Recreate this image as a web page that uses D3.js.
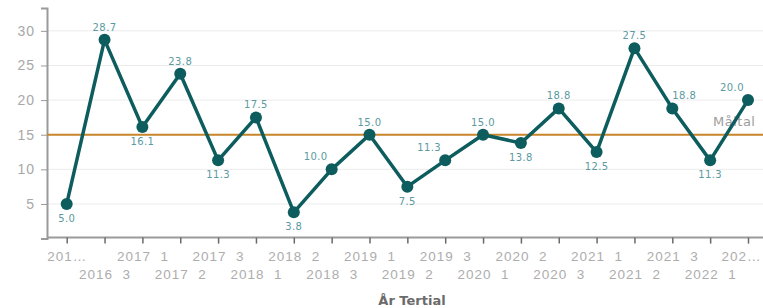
<!DOCTYPE html>
<html>
<head>
<meta charset="utf-8">
<script src="https://cdn.jsdelivr.net/npm/d3@7"></script>
<style>
  body { margin: 0; background: #fff; }
  svg { display: block; font-family: "DejaVu Sans", sans-serif; }
</style>
</head>
<body>
<svg id="chart" width="763" height="308"></svg>
<script>
// periods (År Tertial) and values
const periods = ["2016 2", "2016 3", "2017 1", "2017 2", "2017 3", "2018 1", "2018 2", "2018 3",
                 "2019 1", "2019 2", "2019 3", "2020 1", "2020 2", "2020 3", "2021 1", "2021 2",
                 "2021 3", "2022 1", "2022 2"]
const values = [5.0, 28.7, 16.1, 23.8, 11.3, 17.5, 3.8, 10.0, 15.0, 7.5, 11.3, 15.0, 13.8, 18.8,
                12.5, 27.5, 18.8, 11.3, 20.0]
const yTicks = [5, 10, 15, 20, 25, 30]
const targetValue = 15
const targetLabel = "Måltal"
const xTitle = "År Tertial"

const width = 763, height = 308
const svg = d3.select("#chart")

let data = periods.map((p, i) => ({ period: p, value: values[i] }))

let xScale = d3.scalePoint()
    .domain(periods)
    .range([66.7, 748])

let yScale = d3.scaleLinear()
    .domain([0, 33.3])
    .range([238.6, 8])

const left = 47

// gridlines
svg.append("g")
    .selectAll("line")
    .data(yTicks)
    .join("line")
    .attr("x1", left).attr("x2", width)
    .attr("y1", d => yScale(d)).attr("y2", d => yScale(d))
    .attr("stroke", "#ececec")
    .attr("stroke-width", 1)

// y axis
let yAxis = d3.axisLeft(yScale).tickValues(yTicks).tickSize(6).tickPadding(6)
let gy = svg.append("g")
    .attr("transform", `translate(${left},0)`)
    .call(yAxis)
gy.select(".domain").attr("stroke", "#9a9a9a").attr("stroke-width", 2)
gy.selectAll(".tick line").attr("stroke", "#9a9a9a")
gy.selectAll(".tick text")
    .attr("fill", "#a8a8a8")
    .style("font-size", "14px")
    .style("letter-spacing", "1px")

// x axis
const last = periods.length - 1
let xAxis = d3.axisBottom(xScale).tickSize(6).tickSizeOuter(0).tickPadding(8)
    .tickFormat(d => {
        if (d === periods[0]) return "201…"
        if (d === periods[last]) return "202…"
        return d.replace(" ", "  ")
    })
let gx = svg.append("g")
    .attr("transform", `translate(0,${yScale(0) - 1})`)
    .call(xAxis)
gx.select(".domain")
    .attr("d", `M${left},0H${width}`)
    .attr("stroke", "#9a9a9a").attr("stroke-width", 2)
gx.selectAll(".tick line").attr("stroke", "#6a6a6a").attr("stroke-width", 1.5)
gx.selectAll(".tick text")
    .attr("fill", "#adadad")
    .style("font-size", "13.5px")
    .style("letter-spacing", "1px")
    .style("white-space", "pre")
    .attr("dx", (d, i) => i === last ? -7 : 0)
    .attr("dy", (d, i) => i % 2 === 0 ? "0.71em" : "2.05em")

svg.append("text")
    .attr("x", 412).attr("y", 305)
    .attr("text-anchor", "middle")
    .attr("fill", "#6b6b6b")
    .style("font-size", "13px")
    .style("font-weight", "600")
    .text(xTitle)

// target line
svg.append("line")
    .attr("x1", left).attr("x2", width)
    .attr("y1", yScale(targetValue)).attr("y2", yScale(targetValue))
    .attr("stroke", "#c8862b")
    .attr("stroke-width", 2)

svg.append("text")
    .attr("x", 713).attr("y", yScale(targetValue) - 9)
    .attr("fill", "#9d9d9d")
    .style("font-size", "13px")
    .style("letter-spacing", "0.5px")
    .text(targetLabel)

// series line
let line = d3.line()
    .x(d => xScale(d.period))
    .y(d => yScale(d.value))

svg.append("path")
    .datum(data)
    .attr("d", line)
    .attr("fill", "none")
    .attr("stroke", "#0d5c5e")
    .attr("stroke-width", 3.5)
    .attr("stroke-linejoin", "round")

svg.append("g")
    .selectAll("circle")
    .data(data)
    .join("circle")
    .attr("cx", d => xScale(d.period))
    .attr("cy", d => yScale(d.value))
    .attr("r", 6)
    .attr("fill", "#0d5c5e")

// data labels: below on local minima, above otherwise;
// nudged sideways away from the line on rising / falling points
const prevOf = i => i > 0 ? values[i - 1] : null
const nextOf = i => i < last ? values[i + 1] : null
const isLow = i => {
    let p = prevOf(i), n = nextOf(i)
    return (p === null || values[i] < p) && (n === null || values[i] < n)
}
const shift = i => {
    if (isLow(i)) return 0
    let p = prevOf(i), n = nextOf(i)
    let rising = p !== null && p < values[i] && (n === null || n > values[i])
    let falling = p !== null && p > values[i] && n !== null && n < values[i]
    return rising ? -16 : falling ? 12 : 0
}

svg.append("g")
    .selectAll("text")
    .data(data)
    .join("text")
    .attr("x", (d, i) => xScale(d.period) + shift(i))
    .attr("y", (d, i) => yScale(d.value) + (isLow(i) ? 18 : -9))
    .attr("text-anchor", "middle")
    .attr("fill", "#5b9aa0")
    .style("font-size", "10px")
    .style("letter-spacing", "0.4px")
    .text(d => d.value.toFixed(1))
</script>
</body>
</html>
